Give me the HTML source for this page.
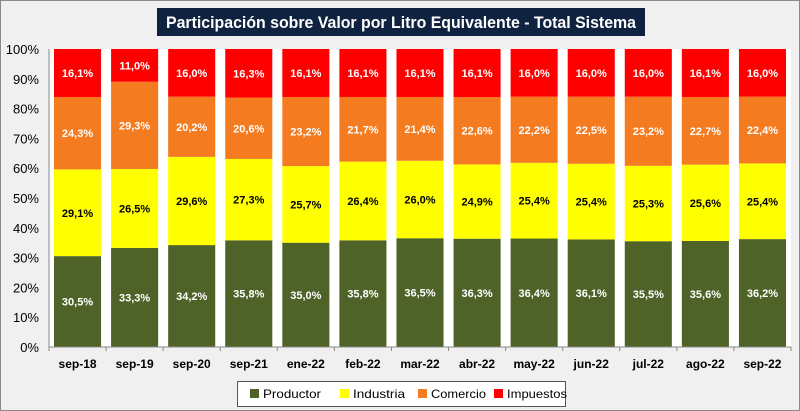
<!DOCTYPE html>
<html><head><meta charset="utf-8"><style>
body{margin:0;background:#fff}
svg{display:block;font-family:"Liberation Sans",sans-serif}
</style></head><body>
<svg id="s" width="800" height="411" xmlns="http://www.w3.org/2000/svg"></svg>
<script>
const s=document.getElementById('s');
let h='';
h+='<rect x="0.5" y="0.5" width="799" height="410" fill="#f0f0f0" stroke="#888"/>';
h+='<rect x="157" y="8" width="488" height="28" fill="#0f2341"/>';
h+='<text x="401" y="28" text-anchor="middle" fill="#fff" font-weight="bold" font-size="17" textLength="470" lengthAdjust="spacingAndGlyphs">Participación sobre Valor por Litro Equivalente - Total Sistema</text>';
const L=49,R=791,T=49,B=347,H=B-T,W=(R-L)/13;
h+=`<rect x="${L}" y="${T}" width="${R-L}" height="${H}" fill="#fff"/>`;
for(let i=0;i<=10;i++){const y=B-H*i/10;h+=`<text x="39" y="${y+5}" text-anchor="end" font-size="13" fill="#000">${i*10}%</text>`;}
const cats=['sep-18','sep-19','sep-20','sep-21','ene-22','feb-22','mar-22','abr-22','may-22','jun-22','jul-22','ago-22','sep-22'];
const P=[30.5,33.3,34.2,35.8,35.0,35.8,36.5,36.3,36.4,36.1,35.5,35.6,36.2];
const I=[29.1,26.5,29.6,27.3,25.7,26.4,26.0,24.9,25.4,25.4,25.3,25.6,25.4];
const C=[24.3,29.3,20.2,20.6,23.2,21.7,21.4,22.6,22.2,22.5,23.2,22.7,22.4];
const M=[16.1,11.0,16.0,16.3,16.1,16.1,16.1,16.1,16.0,16.0,16.0,16.1,16.0];
const cols=['#4f6228','#ffff00','#f47b20','#ff0000'],tc=['#fff','#000','#fff','#fff'];
cats.forEach((c,i)=>{
 const x=L+W*i+5,bw=W-10;
 const vals=[P[i],I[i],C[i],M[i]];const tot=vals.reduce((a,b)=>a+b);
 let acc=0;
 vals.forEach((v,k)=>{
  const y0=B-H*acc/tot,y1=B-H*(acc+v)/tot;acc+=v;
  h+=`<rect x="${x}" y="${y1}" width="${bw}" height="${y0-y1}" fill="${cols[k]}"/>`;
  h+=`<text x="${x+bw/2}" y="${(y0+y1)/2+4}" text-anchor="middle" font-size="11" font-weight="bold" fill="${tc[k]}">${v.toFixed(1).replace('.',',')}%</text>`;
 });
 h+=`<text x="${L+W*i+W/2}" y="368" text-anchor="middle" font-size="12" font-weight="bold" fill="#000">${c}</text>`;
});
for(let i=0;i<=13;i++){const x=L+W*i;h+=`<line x1="${x}" y1="${B}" x2="${x}" y2="${B+4}" stroke="#888"/>`;}
h+=`<line x1="${L}" y1="${T}" x2="${L}" y2="${B}" stroke="#888"/><line x1="${L}" y1="${B}" x2="${R}" y2="${B}" stroke="#888"/>`;
h+='<rect x="237.5" y="381.5" width="328" height="25" fill="#fff" stroke="#555"/>';
const lg=[['Productor',250,58],['Industria',340,52],['Comercio',418,55],['Impuestos',494,60]];
lg.forEach((l,k)=>{h+=`<rect x="${l[1]}" y="389" width="9" height="9" fill="${cols[k]}"/><text x="${l[1]+13}" y="398" font-size="12" fill="#000" textLength="${l[2]}" lengthAdjust="spacingAndGlyphs">${l[0]}</text>`;});
s.innerHTML=h;
</script>
</body></html>
